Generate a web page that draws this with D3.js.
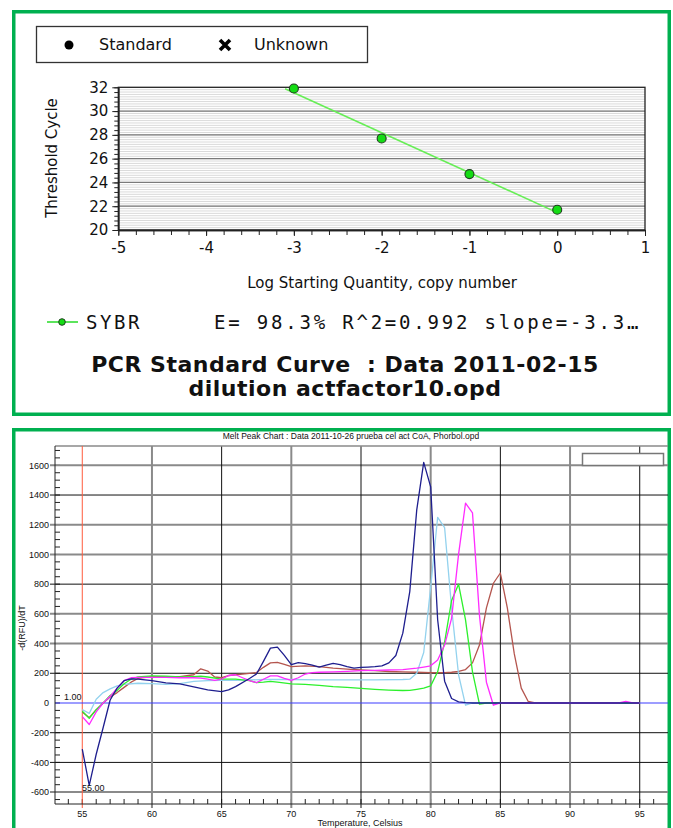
<!DOCTYPE html>
<html lang="en">
<head>
<meta charset="UTF-8">
<title>PCR Standard Curve / Melt Peak Chart</title>
<script src="https://d3js.org/d3.v7.min.js"></script>
<style>
  body { margin: 0; background: #fff; }
  svg { display: block; }
  .std text { font-family: "DejaVu Sans", Verdana, sans-serif; fill: #111; }
  .melt text { font-family: "Liberation Sans", Arial, sans-serif; fill: #111; }
  .mono { font-family: "DejaVu Sans Mono", monospace !important; }
  .pre { white-space: pre; }
</style>
</head>
<body>
<script>
// ---- standard curve data ----
const logQty = [-3, -2, -1, 0];
const ctValues = [31.9, 27.7, 24.7, 21.7];
const stdXTicks = [-5, -4, -3, -2, -1, 0, 1];
const stdYTicks = [20, 22, 24, 26, 28, 30, 32];
const stdTitle = ["PCR Standard Curve  : Data 2011-02-15", "dilution actfactor10.opd"];
const statsText = "E= 98.3% R^2=0.992 slope=-3.3…";

// ---- melt peak data, [temperature, -d(RFU)/dT] ----
const navy = [[55,-310],[55.5,-555],[56,-345],[56.5,-165],[57,20],[57.5,100],[58,150],[58.5,162],[59,160],[60,150],
  [61,135],[62,128],[63,108],[64,88],[65,76],[65.5,88],[66,110],[67,165],[67.5,195],[68,280],[68.5,369],[69,376],
  [69.5,320],[70,258],[70.5,272],[71,265],[71.5,255],[72,242],[72.5,255],[73,266],[73.5,258],[74,245],[74.5,235],
  [75,240],[75.5,242],[76,245],[76.5,250],[77,270],[77.5,320],[78,470],[78.5,750],[79,1300],[79.5,1620],[80,1455],
  [80.5,560],[81,147],[81.5,30],[82,8],[82.5,2],[83,0],[95,0]];
const lightBlue = [[55,-45],[55.5,-70],[56,25],[56.5,70],[57,95],[57.5,115],[58,125],[59,133],[60,130],[61,125],
  [62,130],[63,145],[64,150],[65,152],[66,152],[67,155],[68,158],[70,158],[72,156],[74,155],[76,156],[78,158],
  [78.5,160],[79,200],[79.5,340],[80,780],[80.5,1250],[81,1180],[81.5,640],[82,190],[82.5,-15],[83,0],[95,0]];
const magenta = [[55,-92],[55.5,-145],[56,-60],[56.5,0],[57,45],[57.5,100],[58,150],[58.5,170],[59,173],[60,173],
  [61,172],[62,170],[63,170],[63.5,168],[64,160],[64.5,152],[65,160],[65.5,185],[66,190],[66.5,170],[67,150],
  [67.5,137],[68,160],[68.5,182],[69,182],[69.5,165],[70,152],[70.5,170],[71,195],[71.5,205],[72,207],[73,210],
  [74,213],[75,218],[76,220],[77,222],[78,225],[79,235],[79.5,242],[80,250],[80.5,290],[81,390],[81.5,570],
  [82,1000],[82.5,1345],[83,1280],[83.5,590],[84,140],[84.5,-15],[85,0],[93.5,0],[94,10],[94.5,0],[95,0]];
const green = [[55,-55],[55.5,-103],[56,-45],[56.5,0],[57,50],[57.5,85],[58,130],[58.5,160],[59,175],[60,183],
  [61,180],[62,175],[63,178],[63.5,180],[64,175],[65,160],[66,160],[67,150],[67.5,137],[68,140],[68.5,145],
  [69,140],[70,128],[71,125],[72,118],[73,110],[74,105],[75,98],[76,92],[77,87],[78,84],[78.5,85],[79,92],
  [79.5,100],[80,115],[80.5,210],[81,410],[81.5,690],[82,800],[82.5,560],[83,210],[83.5,-8],[84,0],[95,0]];
const brown = [[55,-60],[55.5,-99],[56,-45],[56.5,0],[57,40],[57.5,70],[58,105],[58.5,140],[59,165],[60,177],
  [61,177],[62,178],[63,190],[63.5,230],[64,215],[64.5,175],[65,170],[65.5,185],[66,190],[67,200],[67.5,205],
  [68,240],[68.5,270],[69,274],[69.5,260],[70,245],[71,250],[72,245],[73,235],[74,228],[75,222],[76,218],
  [77,212],[78,210],[79,207],[80,204],[81,205],[81.5,207],[82,212],[82.5,225],[83,270],[83.5,390],[84,640],
  [84.5,806],[85,875],[85.5,640],[86,330],[86.5,100],[87,10],[87.5,0],[95,0]];
const meltSeries = [
  { data: brown, color: "#b4554e" },
  { data: lightBlue, color: "#93d2ee" },
  { data: green, color: "#2cf02c" },
  { data: magenta, color: "#ff2cff" },
  { data: navy, color: "#1e1e8e" }
];
const meltXTicks = [55, 60, 65, 70, 75, 80, 85, 90, 95];
const meltYTicks = [-600, -400, -200, 0, 200, 400, 600, 800, 1000, 1200, 1400, 1600];
const greyRows = [1600, 1200, 1000, 600, 400, -600];
const meltTitle = "Melt Peak Chart : Data 2011-10-26 prueba cel act CoA, Phorbol.opd";

const W = 673, H = 828;
const svg = d3.select("body").append("svg").attr("width", W).attr("height", H);

// green frames
svg.append("rect").attr("x", 13.75).attr("y", 11.75).attr("width", 655.5).attr("height", 402.5)
  .attr("fill", "none").attr("stroke", "#00b050").attr("stroke-width", 3.5);
svg.append("rect").attr("x", 13.75).attr("y", 429.75).attr("width", 655.5).attr("height", 420)
  .attr("fill", "none").attr("stroke", "#00b050").attr("stroke-width", 3.5);

// ================= standard curve =================
const g1 = svg.append("g").attr("class", "std");
const x = d3.scaleLinear().domain([-5, 1]).range([118.3, 645]);
const y = d3.scaleLinear().domain([20, 32]).range([230, 87.3]);

// legend box
g1.append("rect").attr("x", 36.5).attr("y", 26.5).attr("width", 331).attr("height", 36)
  .attr("fill", "#fff").attr("stroke", "#333").attr("stroke-width", 1.3);
g1.append("circle").attr("cx", 69).attr("cy", 45).attr("r", 4.5).attr("fill", "#000");
g1.append("text").attr("x", 99).attr("y", 50).attr("font-size", 16).text("Standard");
g1.append("path").attr("d", "M220,40L230,50M230,40L220,50").attr("stroke", "#000").attr("stroke-width", 3.6);
g1.append("text").attr("x", 254).attr("y", 50).attr("font-size", 16).text("Unknown");

// grid
g1.append("g").selectAll("line").data(d3.range(20.2, 31.9, 0.2)).join("line")
  .attr("x1", x(-5)).attr("x2", x(1)).attr("y1", d => y(d)).attr("y2", d => y(d))
  .attr("stroke", "#dadada").attr("stroke-width", 1);
g1.append("g").selectAll("line").data(stdYTicks.slice(1, -1)).join("line")
  .attr("x1", x(-5)).attr("x2", x(1)).attr("y1", d => y(d)).attr("y2", d => y(d))
  .attr("stroke", "#7a7a7a").attr("stroke-width", 1.2);

// frame
g1.append("rect").attr("x", x(-5)).attr("y", y(32)).attr("width", x(1) - x(-5)).attr("height", y(20) - y(32))
  .attr("fill", "none").attr("stroke", "#222").attr("stroke-width", 1.3);

// axes
const xMinor = d3.axisBottom(x).tickValues(d3.range(-5, 1.01, 0.2)).tickSize(5).tickFormat("").tickSizeOuter(0);
g1.append("g").attr("transform", `translate(0,${y(20)})`).call(xMinor);
const xAx = d3.axisBottom(x).tickValues(stdXTicks).tickSize(6).tickPadding(6).tickSizeOuter(0).tickFormat(d => String(d));
g1.append("g").attr("transform", `translate(0,${y(20)})`).call(xAx)
  .call(a => a.selectAll("text").attr("font-size", 15).style("font-family", "DejaVu Sans"));
const yMinor = d3.axisLeft(y).tickValues(d3.range(20, 32.01, 0.4)).tickSize(4).tickFormat("").tickSizeOuter(0);
g1.append("g").attr("transform", `translate(${x(-5)},0)`).call(yMinor);
const yAx = d3.axisLeft(y).tickValues(stdYTicks).tickSize(6).tickPadding(4).tickSizeOuter(0);
g1.append("g").attr("transform", `translate(${x(-5)},0)`).call(yAx)
  .call(a => a.selectAll("text").attr("font-size", 15).style("font-family", "DejaVu Sans"));
g1.selectAll(".domain").attr("stroke", "#222").attr("stroke-width", 1.3);
g1.selectAll(".tick line").attr("stroke", "#222");

// regression line
const mx = d3.mean(logQty), my = d3.mean(ctValues);
const slope = d3.sum(logQty, (d, i) => (d - mx) * (ctValues[i] - my)) / d3.sum(logQty, d => (d - mx) ** 2);
const icpt = my - slope * mx;
g1.append("line").attr("x1", x(-3.1)).attr("y1", y(icpt + slope * -3.1))
  .attr("x2", x(0)).attr("y2", y(icpt))
  .attr("stroke", "#66ee55").attr("stroke-width", 1.6);
g1.append("g").selectAll("circle").data(logQty).join("circle")
  .attr("cx", d => x(d)).attr("cy", (d, i) => y(ctValues[i])).attr("r", 4.5)
  .attr("fill", "#14dc14").attr("stroke", "#1f3d1f").attr("stroke-width", 1.1);

g1.append("text").attr("transform", "translate(57,158) rotate(-90)").attr("text-anchor", "middle")
  .attr("font-size", 15).text("Threshold Cycle");
g1.append("text").attr("x", 382).attr("y", 288).attr("text-anchor", "middle")
  .attr("font-size", 15).text("Log Starting Quantity, copy number");

// series legend row
g1.append("line").attr("x1", 47).attr("x2", 78).attr("y1", 322).attr("y2", 322)
  .attr("stroke", "#33dd33").attr("stroke-width", 1.6);
g1.append("circle").attr("cx", 62).attr("cy", 322).attr("r", 3.3)
  .attr("fill", "#14dc14").attr("stroke", "#1f3d1f").attr("stroke-width", 1);
g1.append("text").attr("class", "mono").attr("x", 86).attr("y", 329).attr("font-size", 19)
  .attr("letter-spacing", 2.6).text("SYBR");
g1.append("text").attr("class", "mono").attr("x", 214).attr("y", 329).attr("font-size", 19)
  .attr("letter-spacing", 2.8).text(statsText);

g1.selectAll(null).data(stdTitle).join("text")
  .attr("class", "pre")
  .attr("x", 345).attr("y", (d, i) => 372 + i * 24).attr("text-anchor", "middle")
  .attr("font-size", 22).attr("letter-spacing", 0.5)
  .attr("font-weight", "bold").attr("fill", "#000").text(d => d);

// ================= melt peak chart =================
const g2 = svg.append("g").attr("class", "melt");
const xm = d3.scaleLinear().domain([53, 97]).range([54.4, 667.6]);
const ym = d3.scaleLinear().domain([-680, 1730]).range([804, 446]);
const pL = 55, pR = 668, pT = ym(1730), pB = ym(-680);

g2.append("text").attr("x", 351).attr("y", 439).attr("text-anchor", "middle")
  .attr("font-size", 8.5).text(meltTitle);

// minor ticks
g2.append("g").selectAll("line").data(d3.range(-650, 1701, 50)).join("line")
  .attr("x1", pL).attr("x2", pL + 5).attr("y1", d => ym(d)).attr("y2", d => ym(d))
  .attr("stroke", "#222");
g2.append("g").selectAll("line").data(d3.range(54, 97, 1)).join("line")
  .attr("x1", d => xm(d)).attr("x2", d => xm(d)).attr("y1", pB).attr("y2", pB - 5)
  .attr("stroke", "#222");

// grid rows
g2.append("g").selectAll("line").data(meltYTicks.filter(d => d !== 0)).join("line")
  .attr("x1", pL - 5).attr("x2", pR).attr("y1", d => ym(d)).attr("y2", d => ym(d))
  .attr("stroke", d => greyRows.includes(d) ? "#8a8a8a" : "#111")
  .attr("stroke-width", d => greyRows.includes(d) ? 2 : 1);
// grid columns
g2.append("g").selectAll("line").data(meltXTicks.slice(1)).join("line")
  .attr("x1", d => xm(d)).attr("x2", d => xm(d)).attr("y1", pT).attr("y2", pB + 4)
  .attr("stroke", d => d % 10 === 0 ? "#8a8a8a" : "#111")
  .attr("stroke-width", d => d % 10 === 0 ? 2 : 1);
// top border
g2.append("line").attr("x1", pL).attr("x2", pR).attr("y1", pT).attr("y2", pT)
  .attr("stroke", "#8a8a8a").attr("stroke-width", 1.5);

// start marker and zero line
g2.append("line").attr("x1", xm(55)).attr("x2", xm(55)).attr("y1", pT).attr("y2", pB + 4)
  .attr("stroke", "#ff5a3c").attr("stroke-width", 1);
g2.append("line").attr("x1", pL).attr("x2", pR).attr("y1", ym(0)).attr("y2", ym(0))
  .attr("stroke", "#3c3cff").attr("stroke-width", 1.2);

// axes lines
g2.append("line").attr("x1", pL).attr("x2", pL).attr("y1", pT).attr("y2", pB).attr("stroke", "#222");
g2.append("line").attr("x1", pL).attr("x2", pR).attr("y1", pB).attr("y2", pB).attr("stroke", "#222");

// legend box
g2.append("rect").attr("x", 582.5).attr("y", 453.5).attr("width", 81).attr("height", 12)
  .attr("fill", "#fff").attr("stroke", "#777").attr("stroke-width", 1.5);

// curves
const line = d3.line().x(d => xm(d[0])).y(d => ym(d[1]));
g2.append("g").selectAll("path").data(meltSeries).join("path")
  .attr("d", d => line(d.data)).attr("fill", "none")
  .attr("stroke", d => d.color).attr("stroke-width", 1.3).attr("stroke-linejoin", "round");

// tick labels
g2.append("g").selectAll("text").data(meltYTicks).join("text")
  .attr("x", 49).attr("y", d => ym(d) + 3.2).attr("text-anchor", "end")
  .attr("font-size", 9).text(d => d);
g2.append("g").selectAll("text").data(meltXTicks).join("text")
  .attr("x", d => xm(d)).attr("y", 817).attr("text-anchor", "middle")
  .attr("font-size", 9).text(d => d);

g2.append("text").attr("x", 64).attr("y", 700).attr("font-size", 9).text("1.00");
g2.append("text").attr("x", 82).attr("y", 791).attr("font-size", 9).text("55.00");
g2.append("text").attr("transform", "translate(25,628) rotate(-90)").attr("text-anchor", "middle")
  .attr("font-size", 9).text("-d(RFU)/dT");
g2.append("text").attr("x", 360).attr("y", 826).attr("text-anchor", "middle")
  .attr("font-size", 9).text("Temperature, Celsius");
</script>
</body>
</html>
